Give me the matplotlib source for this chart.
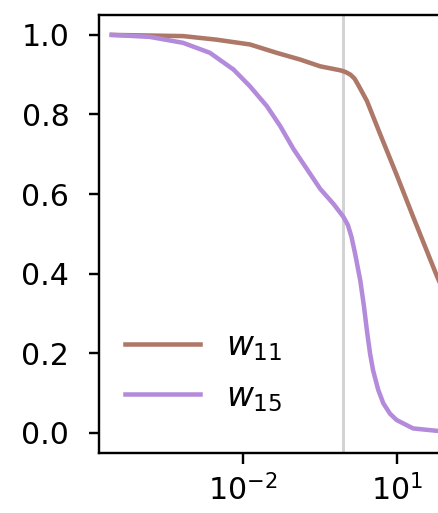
import numpy as np
import matplotlib
matplotlib.use("Agg")
import matplotlib.pyplot as plt
from matplotlib.ticker import NullLocator

# data (log10 x, y)
w11_logx = [-4.55, -3.16, -2.51, -1.86, -1.34, -0.88, -0.49, -0.10, 0.0, 0.10, 0.18, 0.26, 0.34,
            0.42, 0.67, 1.00, 1.32, 1.78, 1.95]
w11_y = [1.0, 0.997, 0.988, 0.976, 0.955, 0.938, 0.921, 0.911, 0.907, 0.900, 0.890, 0.872, 0.853,
         0.834, 0.753, 0.648, 0.543, 0.395, 0.345]

w15_logx = [-4.55, -3.81, -3.16, -2.64, -2.18, -1.86, -1.53, -1.27, -1.01, -0.75, -0.49, -0.23, -0.04,
            0.05, 0.12, 0.19, 0.29, 0.36, 0.42, 0.48, 0.54, 0.64, 0.74, 0.87, 1.00, 1.32, 1.78, 1.95]
w15_y = [1.0, 0.995, 0.980, 0.955, 0.913, 0.871, 0.821, 0.771, 0.713, 0.663, 0.613, 0.575, 0.543,
         0.522, 0.492, 0.450, 0.383, 0.320, 0.257, 0.200, 0.157, 0.108, 0.074, 0.048, 0.032, 0.011,
         0.005, 0.004]

vline_x = 0.91
xticks = [1e-2, 1e1]
yticks = [0.0, 0.2, 0.4, 0.6, 0.8, 1.0]
labels = [r'$w_{11}$', r'$w_{15}$']

DPI = 216
fig = plt.figure(figsize=(438 / DPI, 513 / DPI), dpi=DPI)
ax = fig.add_axes([99.3 / 438, (513 - 452.7) / 513, (600 - 99.3) / 438, (452.7 - 15) / 513])

ax.plot(10 ** np.array(w11_logx), w11_y, color='#ad7867', lw=1.5, label=labels[0])
ax.plot(10 ** np.array(w15_logx), w15_y, color='#b48bdb', lw=1.5, label=labels[1])
ax.axvline(vline_x, color='lightgray', lw=1.0, zorder=0)

ax.set_xscale('log')
ax.set_xlim(10 ** -4.794, 10 ** 4.961)
ax.set_ylim(-0.05, 1.05)
ax.set_xticks(xticks)
ax.xaxis.set_minor_locator(NullLocator())
ax.set_yticks(yticks)
ax.tick_params(axis='y', pad=6.5)
ax.spines['right'].set_visible(False)

ax.legend(loc='lower left', frameon=False, fontsize=11, handlelength=2.27,
          bbox_to_anchor=(0.025, 0.059), borderaxespad=0)

fig.savefig('out.png', dpi=DPI)
